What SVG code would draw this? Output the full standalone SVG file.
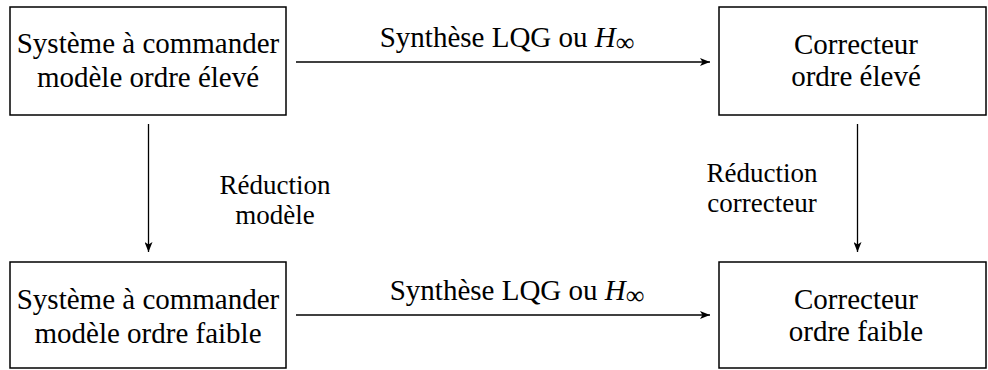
<svg xmlns="http://www.w3.org/2000/svg" width="988" height="370" viewBox="0 0 988 370">
<style>
text{font-family:"Liberation Serif","Times New Roman",serif;font-size:29px;fill:#000;text-anchor:middle}
.lbl{font-size:27px}
.box{fill:#fff;stroke:#000;stroke-width:1.5}
.conn{stroke:#000;stroke-width:1.3;fill:none;marker-end:url(#ah)}
.it{font-style:italic}
.sub{font-size:26px}
</style>
<defs>
<marker id="ah" markerWidth="10" markerHeight="8" refX="10" refY="4" orient="auto" markerUnits="userSpaceOnUse">
<path d="M0,0 L10,4 L0,8 L2.5,4 Z" fill="#000"/>
</marker>
</defs>
<rect width="988" height="370" fill="#fff"/>
<g id="n1">
<rect class="box" x="10" y="7" width="276" height="108"/>
<text x="148" y="53">Système à commander</text>
<text x="148" y="87">modèle ordre élevé</text>
</g>
<g id="n2">
<rect class="box" x="719" y="7" width="267" height="108"/>
<text x="856" y="54">Correcteur</text>
<text x="856" y="86">ordre élevé</text>
</g>
<g id="n3">
<rect class="box" x="10" y="262" width="276" height="106"/>
<text x="148" y="309">Système à commander</text>
<text x="148" y="343">modèle ordre faible</text>
</g>
<g id="n4">
<rect class="box" x="719" y="262" width="267" height="106"/>
<text x="856" y="309">Correcteur</text>
<text x="856" y="341">ordre faible</text>
</g>
<g id="connectors">
<line class="conn" x1="296" y1="62" x2="710" y2="62"/>
<line class="conn" x1="296" y1="315" x2="710" y2="315"/>
<line class="conn" x1="148.5" y1="124" x2="148.5" y2="252"/>
<line class="conn" x1="857.5" y1="124" x2="857.5" y2="252"/>
</g>
<g id="labels">
<text x="507" y="47">Synthèse LQG ou <tspan class="it">H</tspan><tspan class="sub" dy="4">∞</tspan></text>
<text x="517" y="300">Synthèse LQG ou <tspan class="it">H</tspan><tspan class="sub" dy="4">∞</tspan></text>
<text class="lbl" x="275" y="194">Réduction</text>
<text class="lbl" x="275" y="224">modèle</text>
<text class="lbl" x="762" y="182">Réduction</text>
<text class="lbl" x="762" y="212">correcteur</text>
</g>
</svg>
